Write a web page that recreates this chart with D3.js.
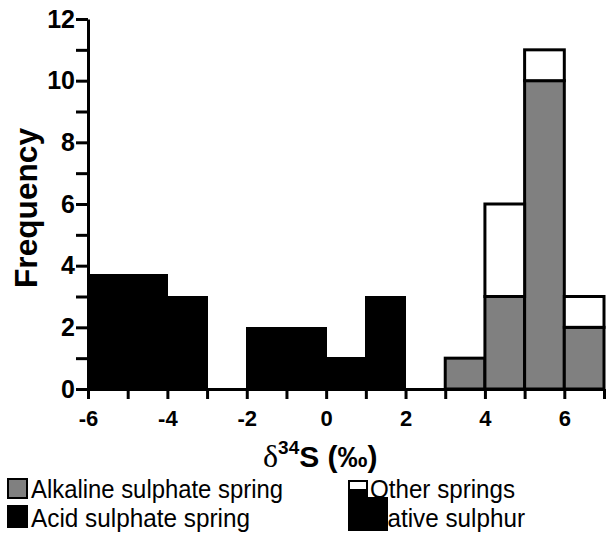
<!DOCTYPE html>
<html>
<head>
<meta charset="utf-8">
<script src="https://cdn.jsdelivr.net/npm/d3@7"></script>
<style>
  body { margin: 0; background: #fff; }
  svg { display: block; font-family: "Liberation Sans", Arial, sans-serif; }
</style>
</head>
<body>
<svg id="chart" width="607" height="533"></svg>
<script>
// histogram bins (lower edge, width 1 permil)
const binStarts = [-6, -5, -4, -3, -2, -1, 0, 1, 2, 3, 4, 5, 6]
const acidNative = [3.7, 3.7, 3, 0, 2, 2, 1, 3, 0, 0, 0, 0, 0]
const alkaline = [0, 0, 0, 0, 0, 0, 0, 0, 0, 1, 3, 10, 2]
const other = [0, 0, 0, 0, 0, 0, 0, 0, 0, 0, 3, 1, 1]
const xTicks = [-6, -5, -4, -3, -2, -1, 0, 1, 2, 3, 4, 5, 6, 7]
const yTicks = [0, 1, 2, 3, 4, 5, 6, 7, 8, 9, 10, 11, 12]

const svg = d3.select('#chart')

const x = d3.scaleLinear().domain([-6, 7]).range([88, 604])
const y = d3.scaleLinear().domain([0, 12]).range([389, 19])

const bins = binStarts.map((b, i) => ({
    x0: b, x1: b + 1, acid: acidNative[i], alk: alkaline[i], oth: other[i]
}))

// black bars
svg.append('g')
    .attr('shape-rendering', 'crispEdges')
    .selectAll('rect')
    .data(bins.filter(d => d.acid > 0))
    .enter()
    .append('rect')
    .attr('x', d => x(d.x0))
    .attr('y', d => y(d.acid))
    .attr('width', d => x(d.x1) - x(d.x0))
    .attr('height', d => y(0) - y(d.acid))
    .attr('fill', '#000')
    .attr('stroke', '#000')
    .attr('stroke-width', 1.5)

// grey bars
svg.append('g')
    .selectAll('rect')
    .data(bins.filter(d => d.alk > 0))
    .enter()
    .append('rect')
    .attr('x', d => x(d.x0))
    .attr('y', d => y(d.alk))
    .attr('width', d => x(d.x1) - x(d.x0))
    .attr('height', d => y(0) - y(d.alk))
    .attr('fill', '#808080')
    .attr('stroke', '#000')
    .attr('stroke-width', 3)

// other springs stacked on top
svg.append('g')
    .selectAll('rect')
    .data(bins.filter(d => d.oth > 0))
    .enter()
    .append('rect')
    .attr('x', d => x(d.x0))
    .attr('y', d => y(d.alk + d.oth))
    .attr('width', d => x(d.x1) - x(d.x0))
    .attr('height', d => y(d.alk) - y(d.alk + d.oth))
    .attr('fill', '#fff')
    .attr('stroke', '#000')
    .attr('stroke-width', 3)

const yAxis = d3.axisLeft(y)
    .tickValues(yTicks)
    .tickSize(12)
    .tickSizeOuter(0)
    .tickPadding(1)
    .tickFormat(d => d % 2 === 0 ? d : '')

const xAxis = d3.axisBottom(x)
    .tickValues(xTicks)
    .tickSize(10)
    .tickSizeOuter(0)
    .tickPadding(11)
    .tickFormat(d => d % 2 === 0 ? d : '')

const gy = svg.append('g')
    .attr('transform', `translate(${x(-6)},0)`)
    .call(yAxis)
gy.selectAll('text')
    .attr('font-size', 25)
    .attr('font-weight', 'bold')
    .attr('fill', '#000')

const gx = svg.append('g')
    .attr('transform', `translate(0,${y(0)})`)
    .call(xAxis)
gx.selectAll('text')
    .attr('font-size', 22)
    .attr('font-weight', 'bold')
    .attr('fill', '#000')

svg.selectAll('.domain, .tick line')
    .attr('stroke', '#000')
    .attr('stroke-width', 3)

// axis titles
svg.append('text')
    .attr('transform', 'translate(37,208) rotate(-90)')
    .attr('text-anchor', 'middle')
    .attr('font-size', 31)
    .attr('font-weight', 'bold')
    .attr('textLength', 160)
    .attr('lengthAdjust', 'spacingAndGlyphs')
    .text('Frequency')

const xt = svg.append('text')
    .attr('transform', 'translate(263,467)')
    .attr('font-size', 30)
    .attr('font-weight', 'bold')
xt.append('tspan')
    .attr('font-family', '"Liberation Serif", serif')
    .attr('font-weight', 'normal')
    .attr('font-size', 32)
    .text('δ')
xt.append('tspan')
    .attr('font-size', 19)
    .attr('dy', -13)
    .text('34')
xt.append('tspan')
    .attr('dy', 13)
    .text('S (‰)')

// legend
const legend = svg.append('g').attr('font-size', 25)

legend.append('rect')
    .attr('x', 8).attr('y', 479).attr('width', 19).attr('height', 19)
    .attr('fill', '#808080').attr('stroke', '#000').attr('stroke-width', 2)
legend.append('text')
    .attr('x', 31).attr('y', 498)
    .attr('textLength', 252).attr('lengthAdjust', 'spacingAndGlyphs')
    .text('Alkaline sulphate spring')

legend.append('rect')
    .attr('x', 7).attr('y', 505).attr('width', 21).attr('height', 23)
    .attr('fill', '#000')
legend.append('text')
    .attr('x', 31).attr('y', 527)
    .attr('textLength', 219).attr('lengthAdjust', 'spacingAndGlyphs')
    .text('Acid sulphate spring')

legend.append('text')
    .attr('x', 370).attr('y', 498)
    .attr('textLength', 145).attr('lengthAdjust', 'spacingAndGlyphs')
    .text('Other springs')
legend.append('text')
    .attr('x', 370).attr('y', 527)
    .attr('textLength', 155).attr('lengthAdjust', 'spacingAndGlyphs')
    .text('Native sulphur')

legend.append('rect')
    .attr('x', 349).attr('y', 481).attr('width', 18).attr('height', 18)
    .attr('fill', '#fff').attr('stroke', '#000').attr('stroke-width', 2)
legend.append('rect')
    .attr('x', 348).attr('y', 489).attr('width', 20).attr('height', 12)
    .attr('fill', '#000')
legend.append('rect')
    .attr('x', 348).attr('y', 497).attr('width', 40).attr('height', 34)
    .attr('fill', '#000')
</script>
</body>
</html>
